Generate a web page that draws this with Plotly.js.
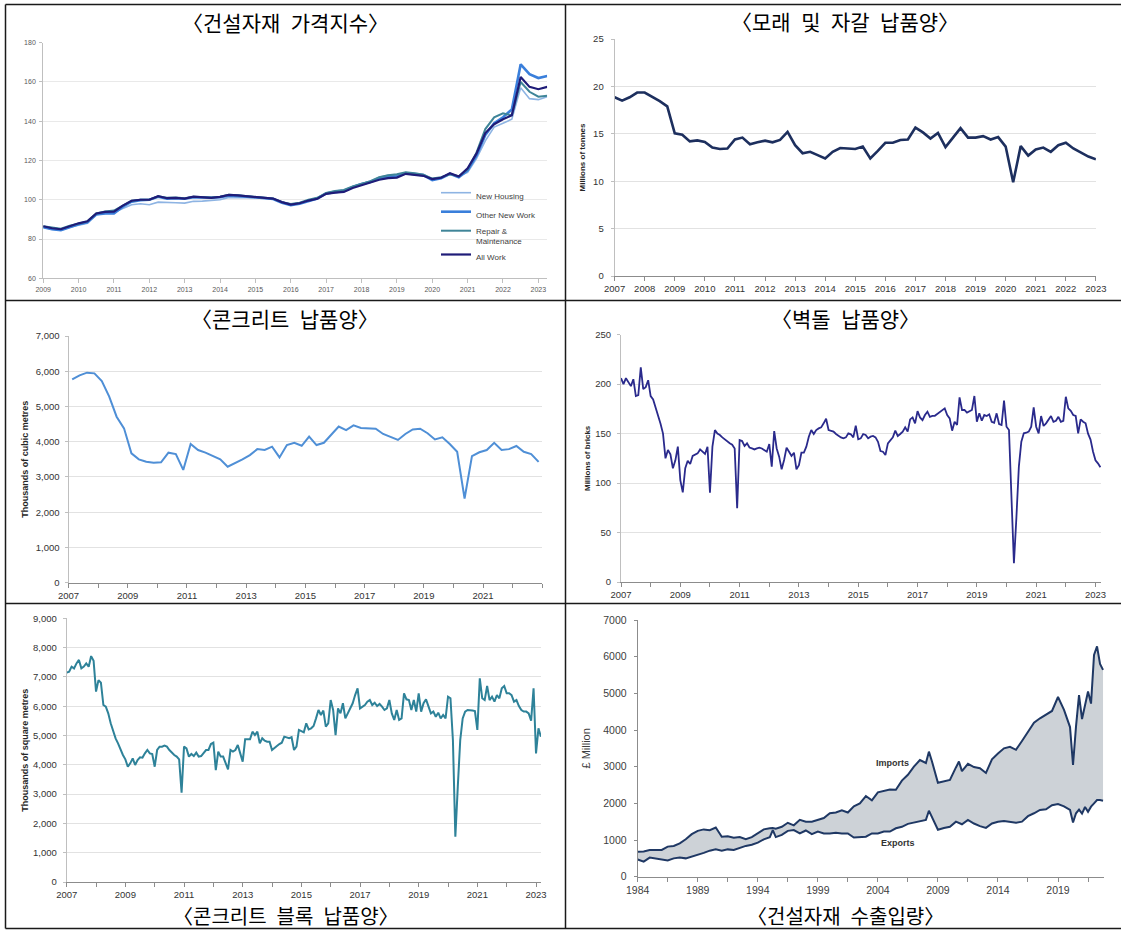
<!DOCTYPE html>
<html>
<head>
<meta charset="utf-8">
<script src="https://cdn.plot.ly/plotly-3.0.1.min.js"></script>
<style>
html,body{margin:0;padding:0;background:#fff;}
#chart{width:1121px;height:930px;}
</style>
</head>
<body>
<div id="chart"></div>
<script>
// ================= DATA =================
// Panel 1: construction materials price index (quarterly, from 2009 Q1)
const priceStart = 2009;
const priceNewHousing = [86.0,85.0,84.5,86.0, 87.0,88.0,92.5,93.0, 93.5,95.5,97.5,98.0, 97.5,98.8,98.5,98.5,
  98.3,99.2,99.3,99.5, 100.0,101.2,101.2,101.3, 101.0,100.8,100.5,98.8, 97.8,98.3,99.8,101.0,
  103.5,104.5,105.0,106.5, 108.0,109.5,111.5,112.5, 112.5,113.8,113.5,113.0, 110.5,111.5,113.0,112.0,
  114.0,121.0,130.0,137.0, 139.0,141.0,157.0,151.5, 151.0,152.5];
const priceOtherNewWork = [86.0,85.0,84.5,86.0, 87.5,88.5,92.5,93.0, 93.0,96.5,99.0,99.8, 100.0,101.5,100.5,100.8,
  100.5,101.3,101.0,101.0, 101.3,102.2,102.0,101.6, 101.0,100.8,100.4,98.5, 97.2,98.0,99.4,100.6,
  103.2,104.0,104.5,106.5, 108.0,109.0,110.8,111.8, 112.0,113.5,113.0,112.5, 110.0,111.0,113.2,111.5,
  115.0,122.5,133.0,139.0, 142.0,146.0,169.0,164.0, 162.0,163.0];
const priceRepair = [86.5,85.8,85.3,86.8, 88.0,89.0,93.0,94.0, 94.5,97.2,99.5,100.0, 100.0,101.8,101.0,101.2,
  100.8,101.6,101.3,101.2, 101.6,102.5,102.3,101.9, 101.2,100.8,100.6,98.8, 97.8,98.5,100.0,101.0,
  103.5,104.5,105.0,106.8, 108.2,109.5,111.5,112.5, 113.0,114.0,113.5,112.8, 110.8,111.5,113.0,112.0,
  115.5,124.0,136.0,142.0, 144.0,143.0,160.0,155.0, 152.5,153.0];
const priceAllWork = [86.5,85.5,85.0,86.5, 88.0,89.0,93.0,93.8, 94.0,97.0,99.5,100.0, 100.0,101.8,100.8,101.0,
  100.6,101.6,101.2,101.0, 101.5,102.5,102.2,101.8, 101.2,100.8,100.6,98.8, 97.5,98.2,99.6,100.5,
  103.0,103.6,104.0,106.0, 107.5,108.6,110.2,111.0, 111.3,113.2,112.8,112.2, 110.5,111.2,113.5,111.8,
  116.0,123.5,134.0,138.5, 141.0,143.0,162.5,157.5, 156.3,157.5];
const priceSeriesNames = ['New Housing','Other New Work','Repair &<br>Maintenance','All Work'];
const priceTickYears = [2009,2010,2011,2012,2013,2014,2015,2016,2017,2018,2019,2020,2021,2022,2023];

// Panel 2: sand & gravel deliveries, millions of tonnes (quarterly from 2007 Q1)
const sandStart = 2007;
const sandGravel = [18.85,18.5,18.85,19.35, 19.35,18.9,18.45,17.9,
  15.05,14.9,14.2,14.3, 14.15,13.55,13.4,13.45, 14.4,14.6,13.9,14.1, 14.28,14.1,14.35,15.2,
  13.8,12.95,13.1,12.75, 12.4,13.1,13.5,13.45, 13.4,13.65,12.4,13.2, 14.05,14.05,14.35,14.4,
  15.65,15.15,14.5,15.1, 13.6,14.6,15.6,14.6, 14.6,14.75,14.4,14.65, 13.65,9.9,13.7,12.7,
  13.35,13.55,13.1,13.8, 14.05,13.45,13.05,12.6, 12.3];
const sandTickYears = [2007,2008,2009,2010,2011,2012,2013,2014,2015,2016,2017,2018,2019,2020,2021,2022,2023];

// Panel 3: ready-mixed concrete deliveries, thousands of m3 (quarterly, mid-quarter from 2007 Q1)
const concreteStart = 2007.125;
const concrete = [5770,5884,5960,5940, 5723,5280,4710,4380, 3670,3500,3430,3405, 3415,3690,3650,3200,
  3935,3765,3690,3600, 3500,3290,3385,3500, 3620,3790,3765,3860, 3555,3905,3970,3885,
  4145,3905,3970,4190, 4430,4330,4465,4390, 4380,4370,4220,4125, 4050,4220,4350,4370,
  4240,4065,4125,3935, 3715,2390,3590,3700, 3765,3970,3765,3790, 3880,3715,3650,3430];
const concreteTickYears = [2007,2008,2009,2010,2011,2012,2013,2014,2015,2016,2017,2018,2019,2020,2021,2022,2023];
const concreteTickLabels = ['2007','','2009','','2011','','2013','','2015','','2017','','2019','','2021','',''];

// Panel 4: brick deliveries, millions (monthly from Jan 2007)
const bricksStart = 2007;
const bricks = [
  206,200,206,201.5,198,205,188,189,217,195,197,204,
  188,184.6,177,168.8,160,150,125,133.4,129,115,123,136.8,
  103,90.6,115,122.6,119.3,127.4,128.4,130,134,131.7,129.4,136.8,
  90.3,136.8,153.6,150,148.6,146.2,144.2,141.8,140.2,138.8,135,74.5,
  143.5,142.5,137.5,140.2,136,135,134,135,135.8,135,133.4,131.7,
  139.5,116.6,152.6,135,126.7,113.9,123.3,135.8,131.7,127.4,130.7,113.9,
  118,130.7,130.7,136.8,146.9,153.6,149.6,153.6,155.3,156.3,160.4,165,
  153.6,152.6,152,149.6,147.6,146.2,145.2,146.2,150.3,149.3,146.2,158,
  144.2,145.2,149.6,148.6,145.2,146.9,147.6,146.2,141.8,132.4,131.7,128.4,
  140.2,143.5,146.2,153,147.6,149.6,152,156.3,152,164.4,166.4,160.4,
  172.8,166.4,163.7,168.8,172.2,167,168,168,169.8,172.2,173.9,175.5,
  168.8,165.4,153,162,158.7,186.7,173.9,173.9,171.2,172.2,173.9,188,
  162,170.5,163,168.8,167.8,169.5,162,161,170.5,159.7,158.7,183.3,
  157,153.6,95,18.9,65,116.6,141.8,150.3,150.9,152,157,176.5,
  157,150.3,167.8,157.7,160.4,163.7,167.8,162,163,167,162,163,
  187.3,175.5,173,168.8,167.8,150.3,164.4,162,160.4,150,144,132,
  123,120,116];
const oddYearTicks = [2007,2008,2009,2010,2011,2012,2013,2014,2015,2016,2017,2018,2019,2020,2021,2022,2023];
const oddYearLabels = ['2007','','2009','','2011','','2013','','2015','','2017','','2019','','2021','','2023'];

// Panel 5: concrete block deliveries, thousands of m2 (monthly from Jan 2007)
const blocksStart = 2007;
const blocks = [
  7145,7180,7350,7290,7460,7580,7290,7350,7460,7350,7710,7550,
  6500,6890,6800,6040,5985,5755,5415,5130,4900,4730,4505,4335,
  4185,3935,4050,4220,3995,4165,4255,4245,4390,4505,4390,4370,
  3935,4505,4620,4620,4655,4620,4505,4415,4335,4280,4185,3050,
  4620,4560,4280,4370,4300,4415,4280,4300,4390,4505,4505,4710,
  4755,3820,4450,4280,4280,4075,3845,4505,4450,4505,4675,4390,
  4105,4870,4870,4870,5130,5015,5130,4730,4905,4825,4790,4790,
  4505,4560,4640,4710,4755,4960,4940,4905,4940,4505,4620,5190,
  5150,5110,5415,5210,5245,5325,5585,5870,5700,5850,5300,5415,
  6210,5870,5015,5925,5755,6100,5585,5755,5925,6100,6380,6610,
  5925,5985,6040,6155,6210,6040,6120,6005,6075,5985,5870,5925,
  6210,5755,5530,5870,5530,5585,6440,6235,6210,5870,6210,5815,
  6440,5815,6100,6235,5985,5755,5815,5640,5780,5585,5700,5585,
  6325,6270,4845,1545,3255,4845,5585,5815,5870,5870,5850,5835,
  5190,6950,6270,6210,6690,6210,6325,6155,6380,6270,6610,6690,
  6440,6440,6380,6155,6210,6005,5870,5815,5815,5755,5505,6610,
  4390,5245,4960];

// Panel 6: construction materials trade, £ million
const tradeYears = [1984,1984.5,1985,1985.5,1986,1986.5,1987,1987.5,1988,1988.5,1989,1989.5,1990,1990.5,
  1991,1991.5,1992,1992.5,1993,1993.5,1994,1994.5,1995,1995.25,1995.5,1996,1996.5,1997,1997.5,1998,1998.5,
  1999,1999.5,2000,2000.5,2001,2001.5,2002,2002.5,2003,2003.5,2004,2004.5,2005,2005.5,2006,2006.5,
  2007,2007.5,2008,2008.25,2008.5,2009,2009.5,2010,2010.5,2010.75,2011,2011.5,2012,2012.5,2013,2013.5,
  2014,2014.5,2015,2015.5,2016,2016.5,2017,2017.5,2018,2018.5,2019,2019.5,2020,2020.25,2020.5,2020.75,
  2021,2021.25,2021.5,2021.75,2022,2022.25,2022.5,2022.75];
const tradeImports = [680,690,730,720,730,820,840,910,1020,1160,1250,1290,1270,1340,
  1090,1100,1060,1080,1020,1080,1180,1290,1320,1330,1310,1360,1470,1400,1550,1500,1500,
  1550,1600,1730,1750,1810,1750,1920,2000,2200,2080,2300,2330,2380,2370,2620,2780,
  3000,3180,3100,3410,3150,2560,2600,2640,2980,3140,2880,3080,2990,2960,2830,3200,
  3360,3500,3540,3460,3700,3960,4200,4320,4420,4520,4900,4550,4080,3050,4100,4950,
  4300,4700,5050,4720,6050,6280,5800,5640];
const tradeExports = [470,410,520,500,460,440,500,520,500,545,590,650,710,745,
  710,745,730,790,840,870,930,1020,1080,1270,1080,1140,1250,1270,1180,1260,1160,
  1230,1180,1180,1200,1180,1180,1070,1070,1090,1180,1180,1230,1230,1320,1360,1440,
  1480,1500,1550,1800,1640,1280,1330,1360,1500,1460,1430,1550,1450,1380,1330,1450,
  1500,1520,1500,1470,1500,1650,1730,1820,1840,1950,1980,1920,1820,1480,1730,1830,
  1720,1900,1770,1910,2000,2090,2090,2070];
const tradeTickYears = [1984,1986.5,1989,1991.5,1994,1996.5,1999,2001.5,2004,2006.5,2009,2011.5,2014,2016.5,2019,2021.5];
const tradeTickLabels = ['1984','','1989','','1994','','1999','','2004','','2009','','2014','','2019',''];

// ================= HELPERS =================
const W = 1121, H = 930;
const dx = (a, b) => [a / W, b / W];
const dy = (top, bottom) => [1 - bottom / H, 1 - top / H];
const timeAxis = (start, step, n) => Array.from({length: n}, (_, i) => start + i * step);
const ARIAL = 'Liberation Sans, Arial, sans-serif';
const KR = 'Noto Sans CJK KR, sans-serif';

// ================= TRACES =================
const pq = timeAxis(priceStart, 0.25, priceAllWork.length);
const priceColors = ['#8EB4E3', '#3A7FDB', '#3F8598', '#1F1C78'];
const priceWidths = [1.6, 2.6, 2.0, 2.2];
const priceData = [priceNewHousing, priceOtherNewWork, priceRepair, priceAllWork];
const traces = priceData.map((vals, k) => ({
  type: 'scatter', mode: 'lines', x: pq, y: vals, name: priceSeriesNames[k],
  xaxis: 'x', yaxis: 'y', line: {color: priceColors[k], width: priceWidths[k]}, showlegend: true
}));

traces.push({type: 'scatter', mode: 'lines', x: timeAxis(sandStart, 0.25, sandGravel.length), y: sandGravel,
  xaxis: 'x2', yaxis: 'y2', line: {color: '#1D2F5E', width: 2.6}, showlegend: false, name: 'Sand & gravel'});
traces.push({type: 'scatter', mode: 'lines', x: timeAxis(concreteStart, 0.25, concrete.length), y: concrete,
  xaxis: 'x3', yaxis: 'y3', line: {color: '#4F8FD6', width: 2.0}, showlegend: false, name: 'Concrete'});
traces.push({type: 'scatter', mode: 'lines', x: timeAxis(bricksStart, 1 / 12, bricks.length), y: bricks,
  xaxis: 'x4', yaxis: 'y4', line: {color: '#2A2A8C', width: 1.8}, showlegend: false, name: 'Bricks'});
traces.push({type: 'scatter', mode: 'lines', x: timeAxis(blocksStart, 1 / 12, blocks.length), y: blocks,
  xaxis: 'x5', yaxis: 'y5', line: {color: '#2E8299', width: 2.0}, showlegend: false, name: 'Blocks'});
traces.push({type: 'scatter', mode: 'lines', x: tradeYears, y: tradeExports,
  xaxis: 'x6', yaxis: 'y6', line: {color: '#1F3864', width: 2.0}, showlegend: false, name: 'Exports'});
traces.push({type: 'scatter', mode: 'lines', x: tradeYears, y: tradeImports, fill: 'tonexty', fillcolor: '#CDD2D7',
  xaxis: 'x6', yaxis: 'y6', line: {color: '#1F3864', width: 2.0}, showlegend: false, name: 'Imports'});

// ================= AXES =================
function xAx(domain, range, anchor, tickvals, ticktext, fsize, color, lineColor) {
  return {domain, range, anchor, tickmode: 'array', tickvals, ticktext,
    tickfont: {family: ARIAL, size: fsize, color}, showline: true, linecolor: lineColor, linewidth: 1,
    ticks: 'outside', ticklen: 4, tickcolor: lineColor, showgrid: false, zeroline: false, fixedrange: true};
}
function yAx(domain, range, anchor, dtick, fsize, color, grid, extra) {
  return Object.assign({domain, range, anchor, dtick, tick0: 0,
    tickfont: {family: ARIAL, size: fsize, color}, showline: true, linecolor: '#BFBFBF', linewidth: 1,
    ticks: 'outside', ticklen: 3, tickcolor: '#BFBFBF', showgrid: grid, gridcolor: '#E2E2E2', gridwidth: 1,
    zeroline: false, fixedrange: true}, extra || {});
}

const layout = {
  width: W, height: H, margin: {l: 0, r: 0, t: 0, b: 0},
  paper_bgcolor: '#fff', plot_bgcolor: 'rgba(0,0,0,0)', hovermode: false,
  showlegend: true,
  legend: {x: 436 / W, y: 1 - 181 / H, xanchor: 'left', yanchor: 'top', bgcolor: 'rgba(0,0,0,0)',
    traceorder: 'normal', font: {family: ARIAL, size: 8, color: '#404040'}, valign: 'top', tracegroupgap: 0},
  xaxis: xAx(dx(43.2, 547.2), [2009, 2023.25], 'y', priceTickYears, priceTickYears.map(String), 7, '#595959', '#BFBFBF'),
  yaxis: yAx(dy(42.7, 278.3), [60, 180], 'x', 20, 7, '#595959', true, {tick0: 60, gridcolor: '#E9E9E9', ticklabelstandoff: 2}),
  xaxis2: xAx(dx(614.6, 1095.9), [2007, 2023], 'y2', sandTickYears, sandTickYears.map(String), 9.5, '#333333', '#8C8C8C'),
  yaxis2: yAx(dy(39, 276), [0, 25], 'x2', 5, 9.5, '#333333', true, {ticklabelstandoff: 5,
    title: {text: 'Millions of tonnes', font: {family: ARIAL, size: 8, color: '#262626', weight: 'bold'}, standoff: 6}}),
  xaxis3: xAx(dx(68.5, 542.3), [2007, 2023], 'y3', concreteTickYears, concreteTickLabels, 9.5, '#333333', '#8C8C8C'),
  yaxis3: yAx(dy(336, 582.7), [0, 7000], 'x3', 1000, 9.5, '#333333', true, {tickformat: ',d', ticklabelstandoff: 3,
    title: {text: 'Thousands of cubic metres', font: {family: ARIAL, size: 9, color: '#262626', weight: 'bold'}, standoff: 5}}),
  xaxis4: xAx(dx(621, 1101.4), [2007, 2023.2], 'y4', oddYearTicks, oddYearLabels, 9.5, '#333333', '#8C8C8C'),
  yaxis4: yAx(dy(334.7, 582), [0, 250], 'x4', 50, 9.5, '#333333', true, {ticklabelstandoff: 4,
    title: {text: 'Millions of bricks', font: {family: ARIAL, size: 8, color: '#262626', weight: 'bold'}, standoff: 3}}),
  xaxis5: xAx(dx(66.7, 541), [2007, 2023.17], 'y5', oddYearTicks, oddYearLabels, 9.5, '#333333', '#8C8C8C'),
  yaxis5: yAx(dy(618.3, 882), [0, 9000], 'x5', 1000, 9.5, '#333333', true, {tickformat: ',d', ticklabelstandoff: 4,
    title: {text: 'Thousands of square metres', font: {family: ARIAL, size: 9, color: '#262626', weight: 'bold'}, standoff: 2}}),
  xaxis6: xAx(dx(637.7, 1104), [1984, 2022.83], 'y6', tradeTickYears, tradeTickLabels, 10.5, '#404040', '#8C8C8C'),
  yaxis6: yAx(dy(620, 876.7), [0, 7000], 'x6', 1000, 10.5, '#404040', false, {tickformat: 'd', ticklabelstandoff: 5,
    linecolor: '#8C8C8C', tickcolor: '#8C8C8C',
    title: {text: '£ Million', font: {family: ARIAL, size: 11, color: '#404040'}, standoff: 10}}),
  annotations: [],
  shapes: []
};

// Panel titles
const titles = [
  ['〈건설자재\u2002가격지수〉', 285, 22, 21],
  ['〈모래\u2002및\u2002자갈\u2002납품양〉', 845, 21, 21],
  ['〈콘크리트\u2002납품양〉', 285, 318, 21],
  ['〈벽돌\u2002납품양〉', 845, 318, 21],
  ['〈콘크리트\u2002블록\u2002납품양〉', 286, 915, 20],
  ['〈건설자재\u2002수출입량〉', 845, 915, 20]
];
titles.forEach(([t, x, y, s]) => layout.annotations.push({
  text: t, xref: 'paper', yref: 'paper', x: x / W, y: 1 - y / H, xanchor: 'center', yanchor: 'middle',
  showarrow: false, borderpad: 0, font: {family: KR, size: s, color: '#000'}
}));
layout.annotations.push({text: '<b>Imports</b>', xref: 'x6', yref: 'y6', x: 2005.2, y: 3090, showarrow: false,
  font: {family: ARIAL, size: 9, color: '#333'}, xanchor: 'center', yanchor: 'middle'});
layout.annotations.push({text: '<b>Exports</b>', xref: 'x6', yref: 'y6', x: 2005.7, y: 910, showarrow: false,
  font: {family: ARIAL, size: 9, color: '#333'}, xanchor: 'center', yanchor: 'middle'});

// Table frame
const frame = [
  [5.5, 4.5, 1121, 4.5], [5.5, 928.5, 1121, 928.5], [5.5, 4.5, 5.5, 928.5],
  [565.5, 4.5, 565.5, 928.5], [5.5, 300.5, 1121, 300.5], [5.5, 603.5, 1121, 603.5]
];
frame.forEach(([x0, y0, x1, y1]) => layout.shapes.push({type: 'line', xref: 'paper', yref: 'paper',
  x0: x0 / W, y0: 1 - y0 / H, x1: x1 / W, y1: 1 - y1 / H, line: {color: '#1a1a1a', width: 1.5}}));

Plotly.newPlot('chart', traces, layout, {displayModeBar: false, staticPlot: true});
</script>
</body>
</html>
